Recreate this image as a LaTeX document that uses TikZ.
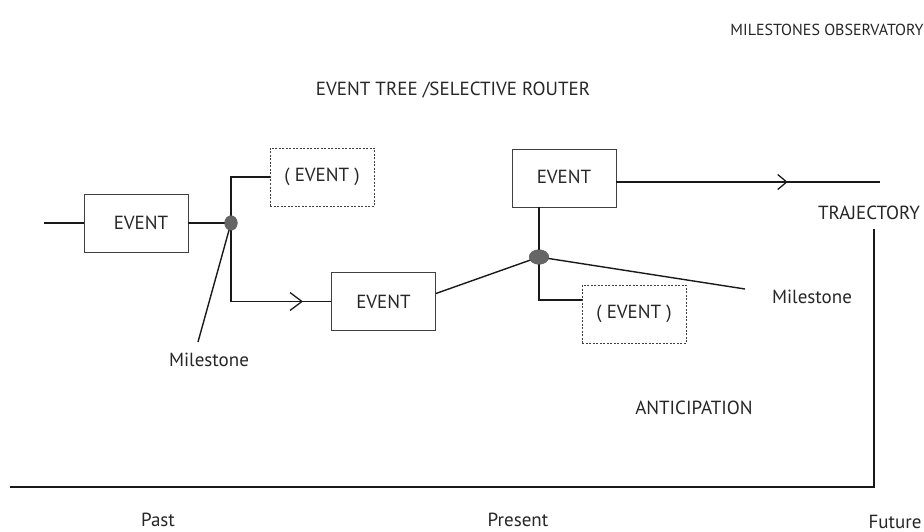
\documentclass[tikz,border=0pt]{standalone}
\usepackage{fontspec}
\setmainfont{PT Sans}
\usetikzlibrary{arrows.meta,decorations.markings,shapes.geometric}
\begin{document}
\begin{tikzpicture}[x=1pt,y=-1pt,
  every node/.style={font=\fontsize{19}{22}\selectfont, text=black!85},
  line/.style={draw=black!90, line width=1.4pt},
  evbox/.style={draw=black!75, line width=0.8pt, minimum width=104pt, minimum height=58pt, inner sep=0pt},
  optbox/.style={evbox, dashed, dash pattern=on 2pt off 1.5pt},
  dot/.style={ellipse, fill=black!60, draw=none, inner sep=0pt},
  midarrow/.style n args={3}{postaction={decorate, decoration={markings, mark=at position #1 with {\arrow[black!90, line width=1.3pt]{Straight Barb[length=#2,width=#3]}}}}},
  lbl/.style={inner sep=0pt}
]
\useasboundingbox (0,0) rectangle (924,532);
\node[lbl, font=\fontsize{16}{18}\selectfont] (obs) at (827,30) {MILESTONES OBSERVATORY};
\node[lbl] (title) at (453,90) {EVENT TREE /SELECTIVE ROUTER};

\node[evbox] (e1) at (136,223) {\hspace{10pt}EVENT};
\node[optbox] (o1) at (322,177) {( EVENT )};
\node[evbox] (e2) at (383.5,301.5) {EVENT};
\node[evbox] (e3) at (564,178) {\raisebox{2pt}{EVENT}\hspace{6pt}};
\node[optbox] (o2) at (634,314) {( EVENT )};

\node[dot, minimum width=13pt, minimum height=15pt] (d1) at (231,223) {};
\node[dot, minimum width=20pt, minimum height=15pt] (d2) at (539,257) {};

\node[lbl] (m1) at (209,360) {Milestone};
\node[lbl] (m2) at (812,297) {Milestone};
\node[lbl] (traj) at (869,213) {TRAJECTORY};
\node[lbl] (antic) at (694,408) {ANTICIPATION};
\node[lbl] (past) at (158,520) {Past};
\node[lbl] (pres) at (518,520) {Present};
\node[lbl] (fut) at (895,522) {Future};

\coordinate (in) at (44,223);
\coordinate (m1end) at (198,342);
\coordinate (m2end) at (745,289);
\coordinate (trajend) at (880,182);
\coordinate (vtop) at (874,229);
\coordinate (corner) at (874,487);
\coordinate (axisleft) at (10,487);
\coordinate (e3out) at ([yshift=-4pt]e3.east);
\coordinate (e2out) at ([yshift=8pt]e2.east);
\coordinate (o2in) at ([yshift=14pt]o2.west);

\draw[line] (in) -- (e1.west);
\draw[line] (e1.east) -- (d1.center);
\draw[line] (o1.west) -| (d1.center);
\draw[line] (d1.center) |- (e2.west -| d1.center);
\draw[line, midarrow={0.72}{12pt}{18pt}] (e2.west -| d1.center) -- (e2.west);
\draw[line] (d1.center) -- (m1end);
\draw[line] (e2out) -- (d2.center);
\draw[line] (e3.south -| d2.center) -- (d2.center) |- (o2in);
\draw[line] (d2.center) -- (m2end);
\draw[line, midarrow={0.65}{9pt}{15pt}] (e3out) -- (e3out -| trajend);
\draw[line, line width=1.8pt] (vtop) -- (corner) -- (axisleft);
\node[dot, minimum width=13pt, minimum height=15pt] at (d1) {};
\node[dot, minimum width=20pt, minimum height=15pt] at (d2) {};
\end{tikzpicture}
\end{document}
